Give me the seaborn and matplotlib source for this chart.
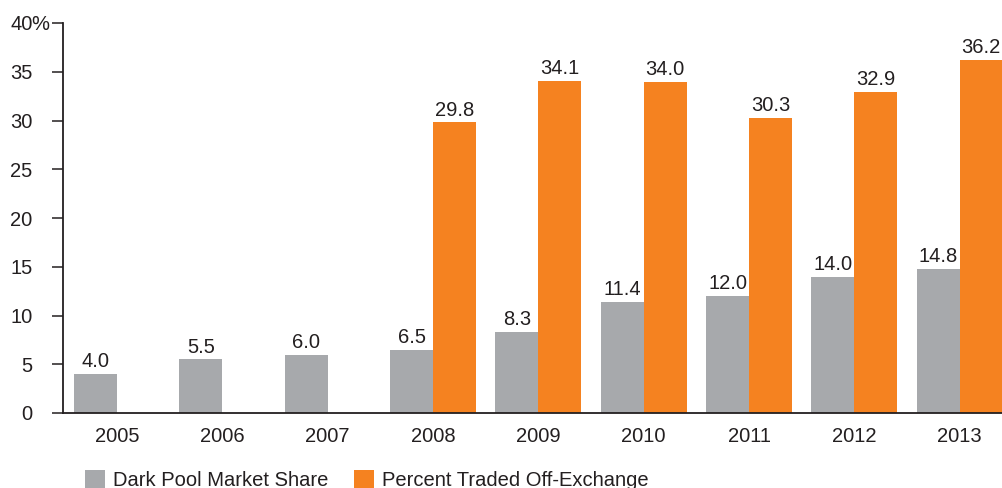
import matplotlib
matplotlib.use("Agg")
import matplotlib.pyplot as plt
import matplotlib.patches as mpatches
import numpy as np
import pandas as pd
import seaborn as sns

years = ["2005", "2006", "2007", "2008", "2009", "2010", "2011", "2012", "2013"]
dark_pool = [4.0, 5.5, 6.0, 6.5, 8.3, 11.4, 12.0, 14.0, 14.8]
off_exchange = [np.nan, np.nan, np.nan, 29.8, 34.1, 34.0, 30.3, 32.9, 36.2]
series = ["Dark Pool Market Share", "Percent Traded Off-Exchange"]
colors = ["#a7a9ac", "#f58220"]
text_color = "#231f20"

df = pd.DataFrame({
    "year": years * 2,
    "value": dark_pool + off_exchange,
    "series": [series[0]] * len(years) + [series[1]] * len(years),
})

sns.set_theme(style="white")
plt.rcParams["font.family"] = ["Liberation Sans", "DejaVu Sans"]

fig = plt.figure(figsize=(10.03, 4.88), dpi=100)
ax = fig.add_axes([63 / 1003, 1 - 413 / 488, 1 - 63 / 1003, (413 - 23) / 488])

sns.barplot(data=df, x="year", y="value", hue="series", hue_order=series,
            palette=colors, width=0.816, saturation=1, linewidth=0,
            ax=ax, legend=False)

for cont in ax.containers:
    ax.bar_label(cont, fmt="%.1f", padding=2, fontsize=14.5, color=text_color)

ax.set_xlim(-0.512, 8.41)
ax.set_ylim(0, 40)
ax.set_yticks(range(0, 41, 5))
ax.set_yticklabels([str(v) for v in range(0, 41, 5)])
ax.annotate("%", xy=(0, 40), xycoords=("axes fraction", "data"),
            xytext=(-32, 0), textcoords="offset pixels",
            ha="left", va="center_baseline", fontsize=14.5, color=text_color)
ax.set_xlabel("")
ax.set_ylabel("")

for side in ["top", "right"]:
    ax.spines[side].set_visible(False)
for side in ["left", "bottom"]:
    ax.spines[side].set_color(text_color)
    ax.spines[side].set_linewidth(1.3)

ax.tick_params(axis="y", direction="out", length=8, width=1.1, color=text_color,
               pad=14, labelsize=14.5, labelcolor=text_color, left=True)
ax.tick_params(axis="x", length=0, pad=10, labelsize=14.5, labelcolor=text_color)

handles = [mpatches.Patch(facecolor=c, edgecolor="none") for c in colors]
fig.legend(handles, series, loc="center left", bbox_to_anchor=(85 / 1003, 1 - 480 / 488),
           ncol=2, frameon=False, fontsize=14.5, handlelength=1.0, handleheight=1.0,
           handletextpad=0.4, columnspacing=1.25, borderpad=0, borderaxespad=0,
           labelcolor=text_color)

fig.savefig("out.png", dpi=100)
